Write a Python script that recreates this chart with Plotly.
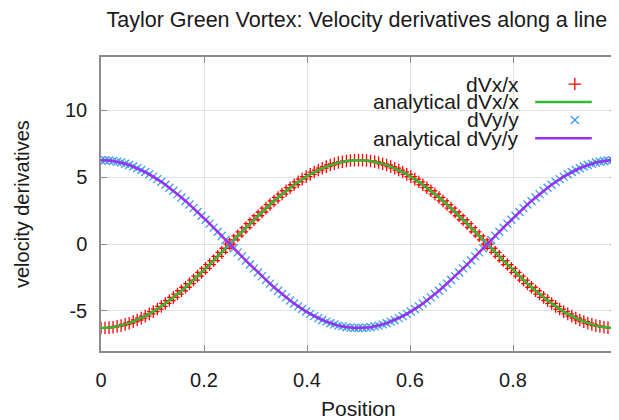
import plotly.graph_objects as go

# sample positions along the line (129 grid points)
position = [
    0.0, 0.0078, 0.0156, 0.0234, 0.0313, 0.0391, 0.0469, 0.0547, 0.0625, 0.0703,
    0.0781, 0.0859, 0.0938, 0.1016, 0.1094, 0.1172, 0.125, 0.1328, 0.1406, 0.1484,
    0.1563, 0.1641, 0.1719, 0.1797, 0.1875, 0.1953, 0.2031, 0.2109, 0.2188, 0.2266,
    0.2344, 0.2422, 0.25, 0.2578, 0.2656, 0.2734, 0.2813, 0.2891, 0.2969, 0.3047,
    0.3125, 0.3203, 0.3281, 0.3359, 0.3438, 0.3516, 0.3594, 0.3672, 0.375, 0.3828,
    0.3906, 0.3984, 0.4063, 0.4141, 0.4219, 0.4297, 0.4375, 0.4453, 0.4531, 0.4609,
    0.4688, 0.4766, 0.4844, 0.4922, 0.5, 0.5078, 0.5156, 0.5234, 0.5313, 0.5391,
    0.5469, 0.5547, 0.5625, 0.5703, 0.5781, 0.5859, 0.5938, 0.6016, 0.6094, 0.6172,
    0.625, 0.6328, 0.6406, 0.6484, 0.6563, 0.6641, 0.6719, 0.6797, 0.6875, 0.6953,
    0.7031, 0.7109, 0.7188, 0.7266, 0.7344, 0.7422, 0.75, 0.7578, 0.7656, 0.7734,
    0.7813, 0.7891, 0.7969, 0.8047, 0.8125, 0.8203, 0.8281, 0.8359, 0.8438, 0.8516,
    0.8594, 0.8672, 0.875, 0.8828, 0.8906, 0.8984, 0.9063, 0.9141, 0.9219, 0.9297,
    0.9375, 0.9453, 0.9531, 0.9609, 0.9688, 0.9766, 0.9844, 0.9922, 1.0,
]

# numerical dVx/x
dvx = [
    -6.28, -6.28, -6.25, -6.22, -6.16, -6.10, -6.01, -5.92, -5.80, -5.68,
    -5.54, -5.39, -5.22, -5.05, -4.86, -4.66, -4.44, -4.22, -3.99, -3.74,
    -3.49, -3.23, -2.96, -2.69, -2.40, -2.12, -1.82, -1.53, -1.23, -0.92,
    -0.62, -0.31, 0.00, 0.31, 0.62, 0.92, 1.23, 1.53, 1.82, 2.12,
    2.40, 2.69, 2.96, 3.23, 3.49, 3.74, 3.99, 4.22, 4.44, 4.66,
    4.86, 5.05, 5.22, 5.39, 5.54, 5.68, 5.80, 5.92, 6.01, 6.10,
    6.16, 6.22, 6.25, 6.28, 6.28, 6.28, 6.25, 6.22, 6.16, 6.10,
    6.01, 5.92, 5.80, 5.68, 5.54, 5.39, 5.22, 5.05, 4.86, 4.66,
    4.44, 4.22, 3.99, 3.74, 3.49, 3.23, 2.96, 2.69, 2.40, 2.12,
    1.82, 1.53, 1.23, 0.92, 0.62, 0.31, 0.00, -0.31, -0.62, -0.92,
    -1.23, -1.53, -1.82, -2.12, -2.40, -2.69, -2.96, -3.23, -3.49, -3.74,
    -3.99, -4.22, -4.44, -4.66, -4.86, -5.05, -5.22, -5.39, -5.54, -5.68,
    -5.80, -5.92, -6.01, -6.10, -6.16, -6.22, -6.25, -6.28, -6.28,
]

# numerical dVy/y
dvy = [
    6.28, 6.28, 6.25, 6.22, 6.16, 6.10, 6.01, 5.92, 5.80, 5.68,
    5.54, 5.39, 5.22, 5.05, 4.86, 4.66, 4.44, 4.22, 3.99, 3.74,
    3.49, 3.23, 2.96, 2.69, 2.40, 2.12, 1.82, 1.53, 1.23, 0.92,
    0.62, 0.31, 0.00, -0.31, -0.62, -0.92, -1.23, -1.53, -1.82, -2.12,
    -2.40, -2.69, -2.96, -3.23, -3.49, -3.74, -3.99, -4.22, -4.44, -4.66,
    -4.86, -5.05, -5.22, -5.39, -5.54, -5.68, -5.80, -5.92, -6.01, -6.10,
    -6.16, -6.22, -6.25, -6.28, -6.28, -6.28, -6.25, -6.22, -6.16, -6.10,
    -6.01, -5.92, -5.80, -5.68, -5.54, -5.39, -5.22, -5.05, -4.86, -4.66,
    -4.44, -4.22, -3.99, -3.74, -3.49, -3.23, -2.96, -2.69, -2.40, -2.12,
    -1.82, -1.53, -1.23, -0.92, -0.62, -0.31, 0.00, 0.31, 0.62, 0.92,
    1.23, 1.53, 1.82, 2.12, 2.40, 2.69, 2.96, 3.23, 3.49, 3.74,
    3.99, 4.22, 4.44, 4.66, 4.86, 5.05, 5.22, 5.39, 5.54, 5.68,
    5.80, 5.92, 6.01, 6.10, 6.16, 6.22, 6.25, 6.28, 6.28,
]

# analytical curves coincide with the numerical values on this grid
analytical_dvx = dvx
analytical_dvy = dvy

legend_labels = ["dVx/x", "analytical dVx/x", "dVy/y", "analytical dVy/y"]
y_ticks = [-5, 0, 5, 10]
y_ticktext = ["-5", "0", "5", "10"]

RED = "#ff0000"
GREEN = "#33b833"
BLUE = "#3d9cf0"
PURPLE = "#9b30f0"
FONT = "Liberation Sans, Arial, sans-serif"
TXT = "#1a1a1a"

fig = go.Figure()

fig.add_trace(go.Scatter(
    x=position, y=dvx, mode="markers",
    marker=dict(symbol="cross-thin", size=9, line=dict(color=RED, width=1.3)),
))
fig.add_trace(go.Scatter(
    x=position, y=analytical_dvx, mode="lines",
    line=dict(color=GREEN, width=2.5),
))
fig.add_trace(go.Scatter(
    x=position, y=dvy, mode="markers",
    marker=dict(symbol="x-thin", size=8, line=dict(color=BLUE, width=1.3)),
))
fig.add_trace(go.Scatter(
    x=position, y=analytical_dvy, mode="lines",
    line=dict(color=PURPLE, width=2.5),
))

# hand-made gnuplot style key: text right-aligned, sample on the right
key_rows = [0.908, 0.847, 0.786, 0.724]
for label, ky in zip(legend_labels, key_rows):
    fig.add_annotation(
        x=0.815, y=ky, xref="paper", yref="paper", text=label,
        showarrow=False, xanchor="right", yanchor="middle",
        font=dict(family=FONT, size=21, color=TXT),
    )
fig.add_trace(go.Scatter(
    x=[0.92], y=[key_rows[0]], xaxis="x2", yaxis="y2", mode="markers",
    marker=dict(symbol="cross-thin", size=9, line=dict(color=RED, width=1.3)),
))
fig.add_trace(go.Scatter(
    x=[0.92], y=[key_rows[2]], xaxis="x2", yaxis="y2", mode="markers",
    marker=dict(symbol="x-thin", size=8, line=dict(color=BLUE, width=1.3)),
))
for ky, col in [(key_rows[1], GREEN), (key_rows[3], PURPLE)]:
    fig.add_shape(type="line", xref="paper", yref="paper",
                  x0=0.843, x1=0.953, y0=ky, y1=ky,
                  line=dict(color=col, width=2.5))

axis_common = dict(
    showline=True, linecolor="#8c8c8c", linewidth=1.5, mirror="allticks",
    ticks="inside", ticklen=6, tickcolor="#8c8c8c",
    showgrid=True, gridcolor="#e2e2e2", gridwidth=1,
    zeroline=False, automargin=False,
    tickfont=dict(family=FONT, size=20, color=TXT),
)

# page body adds an 8px offset, so the figure is 8px smaller each way
fig.update_layout(
    width=611, height=412,
    margin=dict(l=93, r=3, t=49, b=69),
    paper_bgcolor="white", plot_bgcolor="white",
    showlegend=False,
    title=dict(
        text="Taylor Green Vortex: Velocity derivatives along a line",
        x=0.571, xanchor="center", y=0.971, yanchor="middle",
        font=dict(family=FONT, size=21.5, color=TXT),
    ),
    xaxis=dict(range=[0, 1], dtick=0.2, tick0=0, ticklabelstandoff=10,
               ticklabeloverflow="allow", **axis_common),
    yaxis=dict(range=[-8, 14], tickvals=y_ticks, ticktext=y_ticktext,
               ticklabelstandoff=8, **axis_common),
    xaxis2=dict(overlaying="x", range=[0, 1], visible=False),
    yaxis2=dict(overlaying="y", range=[0, 1], visible=False),
    annotations=list(fig.layout.annotations) + [
        dict(x=0.5, y=0, xref="paper", yref="paper", text="Position",
             showarrow=False, xanchor="center", yanchor="middle", yshift=-57,
             font=dict(family=FONT, size=21, color=TXT)),
        dict(x=0, y=0.5, xref="paper", yref="paper", text="velocity derivatives",
             showarrow=False, xanchor="center", yanchor="middle", xshift=-79,
             textangle=-90, font=dict(family=FONT, size=20, color=TXT)),
    ],
)

fig.write_html("out.html")
